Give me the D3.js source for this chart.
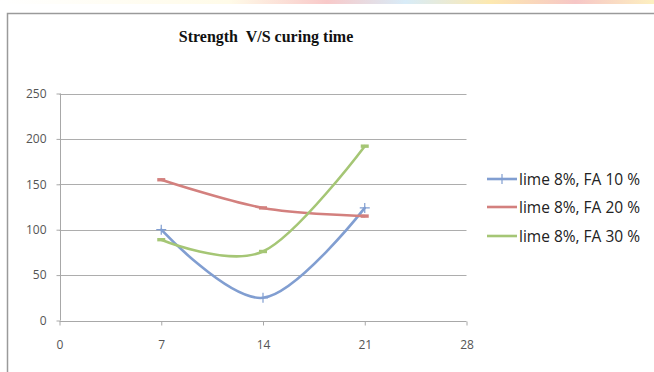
<!DOCTYPE html>
<html>
<head>
<meta charset="utf-8">
<script src="https://cdn.jsdelivr.net/npm/d3@7"></script>
<style>
  body { margin: 0; background: #fff; }
  svg { display: block; }
</style>
</head>
<body>
<div class="chart"></div>
<script>
// curing time (days) and strength per mix
const days = [7, 14, 21];
const fa10 = [100, 25, 124];
const fa20 = [155, 124, 115];
const fa30 = [89, 76, 192];
const seriesNames = ['lime 8%, FA 10 %', 'lime 8%, FA 20 %', 'lime 8%, FA 30 %'];
const xTicks = [0, 7, 14, 21, 28];
const yTicks = [0, 50, 100, 150, 200, 250];

const W = 654, H = 372;
const svg = d3.select('.chart').append('svg')
    .attr('width', W)
    .attr('height', H);

// faint strip of the page behind, cut off at the top
const grad = svg.append('defs').append('linearGradient').attr('id', 'strip');
[['0%', '#ffffff'], ['35%', '#fffbe8'], ['50%', '#f8c9c9'], ['62%', '#d8ecf8'], ['75%', '#fde9b0'], ['88%', '#f6c6c6'], ['100%', '#fdf0c0']]
    .forEach(s => grad.append('stop').attr('offset', s[0]).attr('stop-color', s[1]));
svg.append('rect').attr('x', 0).attr('y', 0).attr('width', W).attr('height', 4).attr('fill', 'url(#strip)');

// chart frame
svg.append('rect')
    .attr('x', 7.5).attr('y', 13.5)
    .attr('width', W + 10).attr('height', H + 10)
    .attr('fill', '#fff')
    .attr('stroke', '#9a9a9a')
    .attr('stroke-width', 1.5);

svg.append('text')
    .text('Strength  V/S curing time')
    .attr('x', 266).attr('y', 42)
    .attr('text-anchor', 'middle')
    .attr('font-family', '"Liberation Serif", "Times New Roman", serif')
    .attr('font-weight', 'bold')
    .attr('font-size', '16px')
    .attr('fill', '#111')
    .style('white-space', 'pre');

const x = d3.scaleLinear().domain([0, 28]).range([59.5, 466.5]);
const y = d3.scaleLinear().domain([0, 250]).range([320.5, 93.5]);

const g = svg.append('g');

// gridlines
g.selectAll('.grid').data(yTicks.slice(1)).join('line')
    .attr('x1', x(0)).attr('x2', x(28))
    .attr('y1', d => Math.round(y(d)) + 0.5).attr('y2', d => Math.round(y(d)) + 0.5)
    .attr('stroke', '#adadad');

// axes
const xAxis = g.append('g')
    .attr('transform', 'translate(0,' + (Math.round(y(0)) + 0.5) + ')')
    .call(d3.axisBottom(x).tickValues(xTicks).tickSize(4).tickPadding(15));
const yAxis = g.append('g')
    .attr('transform', 'translate(' + (Math.round(x(0)) + 0.5) + ',0)')
    .call(d3.axisLeft(y).tickValues(yTicks).tickSize(4).tickPadding(10));

[xAxis, yAxis].forEach(a => {
    a.select('.domain').attr('stroke', '#a8a8a8');
    a.selectAll('.tick line').attr('stroke', '#a8a8a8');
    a.selectAll('.tick text')
        .attr('font-family', '"Open Sans", "Noto Sans", sans-serif')
        .attr('font-size', '12px')
        .attr('fill', '#555');
});
xAxis.select('.domain').attr('d', 'M' + x(0) + ',0H' + x(28));
yAxis.select('.domain').attr('d', 'M0,' + y(0) + 'V' + y(250));

const colors = ['#819ed1', '#d3807e', '#a5c675'];
const series = [fa10, fa20, fa30];

const line = d3.line()
    .x(d => x(d[0]))
    .y(d => y(d[1]))
    .curve(d3.curveCardinal.tension(0));

series.forEach((vals, i) => {
    const pts = days.map((d, j) => [d, vals[j]]);
    g.append('path')
        .datum(pts)
        .attr('d', line)
        .attr('fill', 'none')
        .attr('stroke', colors[i])
        .attr('stroke-width', 2.6)
        .attr('stroke-linecap', 'round');

    if (i === 0) {
        // plus markers
        g.selectAll('.plus' + i).data(pts).join('path')
            .attr('d', d => {
                const px = x(d[0]), py = y(d[1]);
                return 'M' + (px - 5) + ',' + py + 'H' + (px + 5) + 'M' + px + ',' + (py - 5) + 'V' + (py + 5);
            })
            .attr('stroke', colors[i])
            .attr('stroke-width', 1.2);
    } else {
        // dash markers
        g.selectAll('.dash' + i).data(pts).join('path')
            .attr('d', d => {
                const px = x(d[0]), py = y(d[1]);
                return 'M' + (px - 4) + ',' + py + 'H' + (px + 4);
            })
            .attr('stroke', colors[i])
            .attr('stroke-width', 3.4);
    }
});

// legend
const legend = svg.append('g');
const rowY = [179, 207, 236];
seriesNames.forEach((name, i) => {
    legend.append('line')
        .attr('x1', 487).attr('x2', 517)
        .attr('y1', rowY[i]).attr('y2', rowY[i])
        .attr('stroke', colors[i])
        .attr('stroke-width', 2.6);
    if (i === 0) {
        legend.append('path')
            .attr('d', 'M497,' + rowY[i] + 'H507M502,' + (rowY[i] - 5) + 'V' + (rowY[i] + 5))
            .attr('stroke', colors[i])
            .attr('stroke-width', 1.2);
    }
    legend.append('text')
        .text(name)
        .attr('x', 519).attr('y', rowY[i] + 5.5)
        .attr('font-family', '"Open Sans", "Noto Sans", sans-serif')
        .attr('font-size', '15.5px')
        .attr('fill', '#222');
});
</script>
</body>
</html>
